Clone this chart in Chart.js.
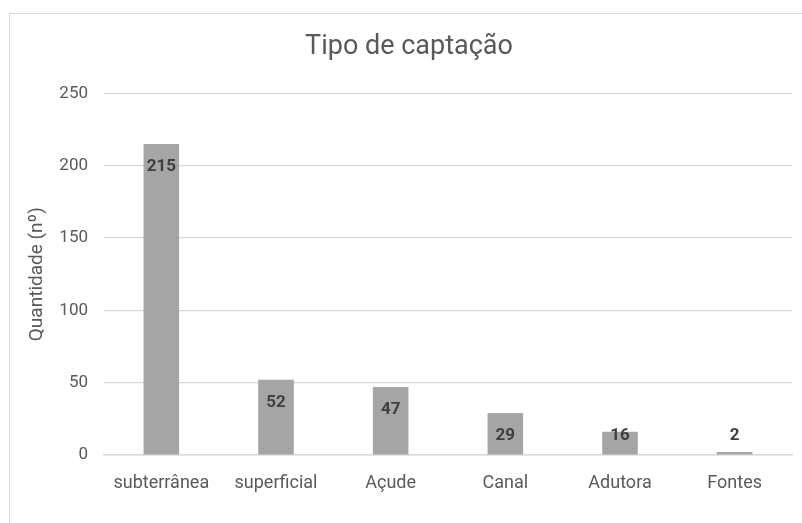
<!DOCTYPE html>
<html>
<head>
<meta charset="utf-8">
<script src="https://cdn.jsdelivr.net/npm/chart.js@4"></script>
<style>
  body { margin: 0; background: #fff; }
  #wrap { position: relative; width: 802px; height: 523px; overflow: hidden; }
  #frame { position: absolute; left: 9px; top: 13px; width: 820px; height: 540px;
           border: 1.5px solid #d9d9d9; box-sizing: border-box; }
  canvas { position: absolute; left: 0; top: 0; }
</style>
</head>
<body>
<div id="wrap">
  <div id="frame"></div>
  <canvas id="chart" width="802" height="523"></canvas>
</div>
<script>
const categories = ["subterrânea", "superficial", "Açude", "Canal", "Adutora", "Fontes"];
const values = [215, 52, 47, 29, 16, 2];
const yTicks = [0, 50, 100, 150, 200, 250];

// rótulos de valor dentro da ponta da barra, empurrados para cima se a barra for baixa
const valueLabels = {
  id: "valueLabels",
  afterDatasetsDraw(chart) {
    const ctx = chart.ctx;
    const base = chart.scales.y.getPixelForValue(0);
    const meta = chart.getDatasetMeta(0);
    ctx.save();
    ctx.font = "bold 17px Roboto";
    ctx.fillStyle = "#404040";
    ctx.textAlign = "center";
    ctx.textBaseline = "middle";
    meta.data.forEach((bar, i) => {
      const y = Math.min(bar.y + 23, base - 19);
      ctx.fillText(values[i], bar.x, y);
    });
    ctx.restore();
  }
};

const ctx = document.getElementById("chart").getContext("2d");
new Chart(ctx, {
  type: "bar",
  data: {
    labels: categories,
    datasets: [{
      data: values,
      backgroundColor: "#a5a5a5",
      categoryPercentage: 1,
      barPercentage: 0.31,
    }],
  },
  options: {
    responsive: false,
    animation: false,
    layout: { padding: { left: 26, right: 10, top: 31, bottom: 28 } },
    plugins: {
      legend: { display: false },
      tooltip: { enabled: false },
      title: {
        display: true,
        text: "Tipo de captação",
        color: "#595959",
        font: { family: "Roboto", size: 27, weight: "normal" },
        padding: { top: 0, bottom: 30 },
      },
    },
    scales: {
      x: {
        afterFit: (scale) => { scale.height = 40; },
        grid: { display: false, drawTicks: false },
        border: { color: "#d9d9d9", width: 1.5 },
        ticks: { color: "#595959", font: { family: "Roboto", size: 18 }, padding: 18, maxRotation: 0 },
      },
      y: {
        min: 0,
        max: 250,
        afterBuildTicks: (scale) => { scale.ticks = yTicks.map(v => ({ value: v })); },
        afterFit: (scale) => { scale.width = 78; },
        grid: { color: "#d9d9d9", lineWidth: 1.2, drawTicks: false },
        border: { display: false },
        ticks: { color: "#595959", font: { family: "Roboto", size: 17 }, padding: 16 },
        title: {
          display: true,
          text: "Quantidade (nº)",
          color: "#595959",
          font: { family: "Roboto", size: 19 },
          padding: { top: 0, bottom: 0 },
        },
      },
    },
  },
  plugins: [valueLabels],
});
</script>
</body>
</html>
